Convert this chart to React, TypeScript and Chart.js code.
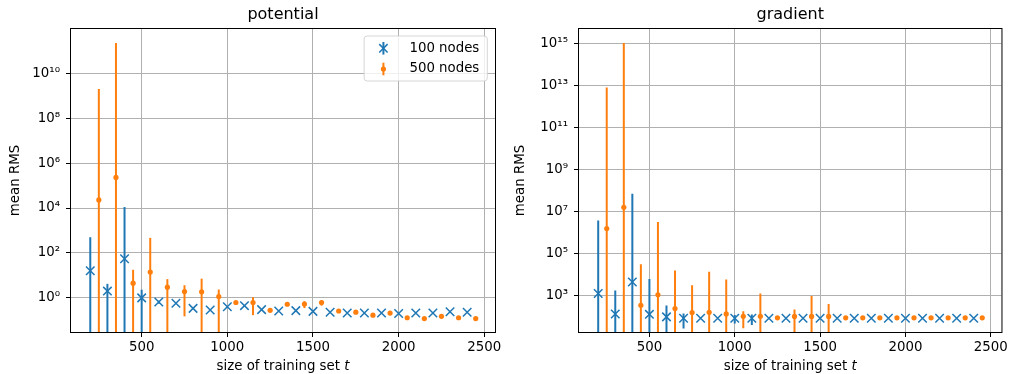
import React, { useEffect, useRef } from 'react';
import { Chart, registerables } from 'chart.js';

Chart.register(...registerables);

const BLUE = '#1f77b4';
const ORANGE = '#ff7f0e';
const GRID = '#b0b0b0';
const FONT = "'DejaVu Sans', 'Liberation Sans', sans-serif";

const seriesLabels = ['100 nodes', '500 nodes'];
const panelTitles = ['potential', 'gradient'];
const xAxisLabel = 'size of training set ';
const xAxisLabelItalic = 't';
const yAxisLabel = 'mean RMS';

const x100 = [200, 300, 400, 500, 600, 700, 800, 900, 1000, 1100, 1200, 1300, 1400, 1500, 1600, 1700, 1800, 1900, 2000, 2100, 2200, 2300, 2400];
const x500 = [250, 350, 450, 550, 650, 750, 850, 950, 1050, 1150, 1250, 1350, 1450, 1550, 1650, 1750, 1850, 1950, 2050, 2150, 2250, 2350, 2450];

const xTicks = [500, 1000, 1500, 2000, 2500];
const xMin = 87.5;
const xMax = 2562.5;

// potential panel
const potential100Mean = [16, 2.0, 55, 1.0, 0.65, 0.58, 0.34, 0.29, 0.40, 0.45, 0.30, 0.26, 0.27, 0.25, 0.23, 0.21, 0.21, 0.21, 0.20, 0.21, 0.21, 0.24, 0.23];
const potential100Err = [484, 2.2, 11000, 1.3, 0.1, 0, 0, 0, 0, 0, 0, 0, 0, 0, 0, 0, 0, 0, 0, 0, 0, 0, 0];
const potential500Mean = [2.3e4, 2.3e5, 4.5, 14, 3.0, 1.9, 1.85, 1.15, 0.62, 0.62, 0.28, 0.52, 0.53, 0.62, 0.26, 0.23, 0.17, 0.21, 0.13, 0.12, 0.15, 0.13, 0.12];
const potential500Err = [2e9, 2.2e11, 13.3, 456, 3.8, 1.75, 5.3, 1.2, 0, 0.45, 0, 0, 0.18, 0.17, 0, 0, 0, 0, 0, 0, 0, 0, 0];
const potentialYTicks = [1e0, 1e2, 1e4, 1e6, 1e8, 1e10];
const potentialYMin = Math.pow(10, -1.52);
const potentialYMax = Math.pow(10, 11.97);

// gradient panel
const gradient100Mean = [1290, 138, 4600, 132, 100, 86, 86, 86, 86, 86, 86, 86, 86, 86, 86, 86, 86, 86, 86, 86, 86, 86, 86];
const gradient100Err = [3.9e6, 1660, 7.4e7, 6270, 245, 58, 0, 0, 38, 45, 0, 0, 0, 0, 0, 0, 0, 0, 0, 0, 0, 0, 0];
const gradient500Mean = [1.6e6, 1.66e7, 357, 1120, 250, 160, 165, 138, 107, 107, 90, 105, 105, 105, 90, 90, 90, 90, 90, 90, 90, 90, 90];
const gradient500Err = [8.5e12, 1.1e15, 3.2e4, 3.3e6, 1.6e4, 3040, 1.4e4, 5860, 78, 1183, 0, 120, 895, 310, 0, 0, 0, 0, 0, 0, 0, 0, 0];
const gradientYTicks = [1e3, 1e5, 1e7, 1e9, 1e11, 1e13, 1e15];
const gradientYMin = Math.pow(10, 1.28);
const gradientYMax = Math.pow(10, 15.71);

const SUP = '⁰¹²³⁴⁵⁶⁷⁸⁹';
function pow10Label(v: number): string {
  const e = Math.round(Math.log10(v));
  return '10' + String(e).split('').map((c) => (c === '-' ? '⁻' : SUP[+c])).join('');
}

function errBars(xs: number[], means: number[], errs: number[], floor: number) {
  return xs.map((x, i) => ({ x, y: [Math.max(means[i] - errs[i], floor), means[i] + errs[i]] }));
}
function points(xs: number[], means: number[]) {
  return xs.map((x, i) => ({ x, y: means[i] }));
}

const spinePlugin = {
  id: 'spines',
  afterDatasetsDraw(chart: any) {
    const { ctx, chartArea: a } = chart;
    ctx.save();
    ctx.strokeStyle = '#000';
    ctx.lineWidth = 1;
    ctx.strokeRect(a.left - 0.5, a.top - 0.5, a.right - a.left + 1, a.bottom - a.top + 1);
    ctx.restore();
  },
};

const xLabelPlugin = {
  id: 'xlabel',
  afterDraw(chart: any) {
    const { ctx, chartArea: a } = chart;
    ctx.save();
    const normal = `13.33px ${FONT}`;
    const italic = `italic 13.33px ${FONT}`;
    ctx.font = normal;
    const w1 = ctx.measureText(xAxisLabel).width;
    ctx.font = italic;
    const w2 = ctx.measureText(xAxisLabelItalic).width;
    const x0 = (a.left + a.right) / 2 - (w1 + w2) / 2;
    const y = 367;
    ctx.fillStyle = '#000';
    ctx.textBaseline = 'middle';
    ctx.textAlign = 'left';
    ctx.font = normal;
    ctx.fillText(xAxisLabel, x0, y);
    ctx.font = italic;
    ctx.fillText(xAxisLabelItalic, x0 + w1, y);
    ctx.restore();
  },
};

const legendPlugin = {
  id: 'insideLegend',
  afterDraw(chart: any, _args: any, opts: any) {
    if (!opts || !opts.show) return;
    const { ctx, chartArea: a } = chart;
    ctx.save();
    ctx.font = `13.33px ${FONT}`;
    const tw = Math.max(...seriesLabels.map((s) => ctx.measureText(s).width));
    const w = 45.3 + tw + 8;
    const h = 45;
    const right = a.right - 7.7;
    const left = right - w;
    const top = a.top + 7;
    ctx.beginPath();
    if (ctx.roundRect) ctx.roundRect(left, top, w, h, 3);
    else ctx.rect(left, top, w, h);
    ctx.fillStyle = 'rgba(255,255,255,0.8)';
    ctx.fill();
    ctx.strokeStyle = 'rgba(204,204,204,0.8)';
    ctx.lineWidth = 1;
    ctx.stroke();
    const mx = left + 19.3;
    const rows = [top + 12.3, top + 33];
    // 100 nodes marker
    ctx.lineWidth = 2;
    ctx.strokeStyle = BLUE;
    ctx.beginPath();
    ctx.moveTo(mx, rows[0] - 6.3);
    ctx.lineTo(mx, rows[0] + 6.3);
    ctx.stroke();
    ctx.lineWidth = 1.5;
    const d = 4.2;
    ctx.beginPath();
    ctx.moveTo(mx - d, rows[0] - d);
    ctx.lineTo(mx + d, rows[0] + d);
    ctx.moveTo(mx - d, rows[0] + d);
    ctx.lineTo(mx + d, rows[0] - d);
    ctx.stroke();
    // 500 nodes marker
    ctx.lineWidth = 2;
    ctx.strokeStyle = ORANGE;
    ctx.beginPath();
    ctx.moveTo(mx, rows[1] - 6.3);
    ctx.lineTo(mx, rows[1] + 6.3);
    ctx.stroke();
    ctx.fillStyle = ORANGE;
    ctx.beginPath();
    ctx.arc(mx, rows[1], 2.6, 0, Math.PI * 2);
    ctx.fill();
    // labels
    ctx.fillStyle = '#000';
    ctx.textBaseline = 'middle';
    ctx.textAlign = 'left';
    seriesLabels.forEach((s, i) => ctx.fillText(s, left + 45.3, rows[i] - 0.2));
    ctx.restore();
  },
};

interface PanelSpec {
  title: string;
  mean100: number[];
  err100: number[];
  mean500: number[];
  err500: number[];
  yMin: number;
  yMax: number;
  yTicks: number[];
  yAxisWidth: number;
  padRight: number;
  legend: boolean;
}

function buildConfig(p: PanelSpec): any {
  const floor = p.yMin / 100;
  const tickFont = { family: FONT, size: 13.33 };
  const gridOpts = { color: GRID, lineWidth: 1, tickColor: '#000', tickLength: 5, tickWidth: 1, offset: false };
  return {
    type: 'scatter',
    data: {
      datasets: [
        {
          type: 'bar',
          label: seriesLabels[0] + ' error',
          data: errBars(x100, p.mean100, p.err100, floor),
          backgroundColor: BLUE,
          borderWidth: 0,
          maxBarThickness: 2,
          grouped: false,
          clip: 0,
          order: 3,
        },
        {
          type: 'bar',
          label: seriesLabels[1] + ' error',
          data: errBars(x500, p.mean500, p.err500, floor),
          backgroundColor: ORANGE,
          borderWidth: 0,
          maxBarThickness: 2,
          grouped: false,
          clip: 0,
          order: 2,
        },
        {
          type: 'scatter',
          label: seriesLabels[0],
          data: points(x100, p.mean100),
          pointStyle: 'crossRot',
          pointRadius: 6,
          borderColor: BLUE,
          backgroundColor: BLUE,
          borderWidth: 1.5,
          order: 1,
        },
        {
          type: 'scatter',
          label: seriesLabels[1],
          data: points(x500, p.mean500),
          pointStyle: 'circle',
          pointRadius: 2.6,
          borderWidth: 0,
          backgroundColor: ORANGE,
          borderColor: ORANGE,
          order: 0,
        },
      ],
    },
    options: {
      animation: false,
      responsive: false,
      devicePixelRatio: 1,
      events: [],
      layout: { padding: { left: 0, right: p.padRight, top: 0, bottom: 0 } },
      plugins: {
        legend: { display: false },
        tooltip: { enabled: false },
        title: {
          display: true,
          text: p.title,
          fullSize: false,
          color: '#000',
          font: { family: FONT, size: 16, weight: 'normal', lineHeight: 1.2 },
          padding: { top: 5, bottom: 4.8 },
        },
        insideLegend: { show: p.legend },
      },
      scales: {
        x: {
          type: 'linear',
          min: xMin,
          max: xMax,
          offset: false,
          afterBuildTicks: (s: any) => {
            s.ticks = xTicks.map((v) => ({ value: v }));
          },
          afterFit: (s: any) => {
            s.height = 42;
          },
          grid: gridOpts,
          border: { display: false },
          ticks: {
            color: '#000',
            font: tickFont,
            padding: 3,
            maxRotation: 0,
            autoSkip: false,
            callback: (v: any) => String(v),
          },
        },
        y: {
          type: 'logarithmic',
          min: p.yMin,
          max: p.yMax,
          afterBuildTicks: (s: any) => {
            s.ticks = p.yTicks.map((v) => ({ value: v }));
          },
          afterFit: (s: any) => {
            s.width = p.yAxisWidth;
          },
          grid: gridOpts,
          border: { display: false },
          ticks: {
            color: '#000',
            font: tickFont,
            padding: 6,
            autoSkip: false,
            callback: (v: any) => pow10Label(Number(v)),
          },
          title: {
            display: true,
            text: yAxisLabel,
            color: '#000',
            font: { family: FONT, size: 13.33, lineHeight: 1.2 },
            padding: { top: 7.8, bottom: 0 },
          },
        },
      },
    },
    plugins: [spinePlugin, xLabelPlugin, legendPlugin],
  };
}

function Panel({ spec, left, width }: { spec: PanelSpec; left: number; width: number }) {
  const ref = useRef<HTMLCanvasElement>(null);
  useEffect(() => {
    if (!ref.current) return;
    const chart = new Chart(ref.current, buildConfig(spec));
    return () => chart.destroy();
  }, []);
  return (
    <canvas
      ref={ref}
      width={width}
      height={374}
      style={{ position: 'absolute', left, top: 0, width, height: 374 }}
    />
  );
}

const potentialSpec: PanelSpec = {
  title: panelTitles[0],
  mean100: potential100Mean,
  err100: potential100Err,
  mean500: potential500Mean,
  err500: potential500Err,
  yMin: potentialYMin,
  yMax: potentialYMax,
  yTicks: potentialYTicks,
  yAxisWidth: 71,
  padRight: 10,
  legend: true,
};

const gradientSpec: PanelSpec = {
  title: panelTitles[1],
  mean100: gradient100Mean,
  err100: gradient100Err,
  mean500: gradient500Mean,
  err500: gradient500Err,
  yMin: gradientYMin,
  yMax: gradientYMax,
  yTicks: gradientYTicks,
  yAxisWidth: 74,
  padRight: 8,
  legend: false,
};

export default function App() {
  return (
    <div style={{ position: 'absolute', left: 0, top: 0, width: 1011, height: 374, background: '#fff', overflow: 'hidden' }}>
      <Panel spec={potentialSpec} left={0} width={505} />
      <Panel spec={gradientSpec} left={505} width={506} />
    </div>
  );
}
